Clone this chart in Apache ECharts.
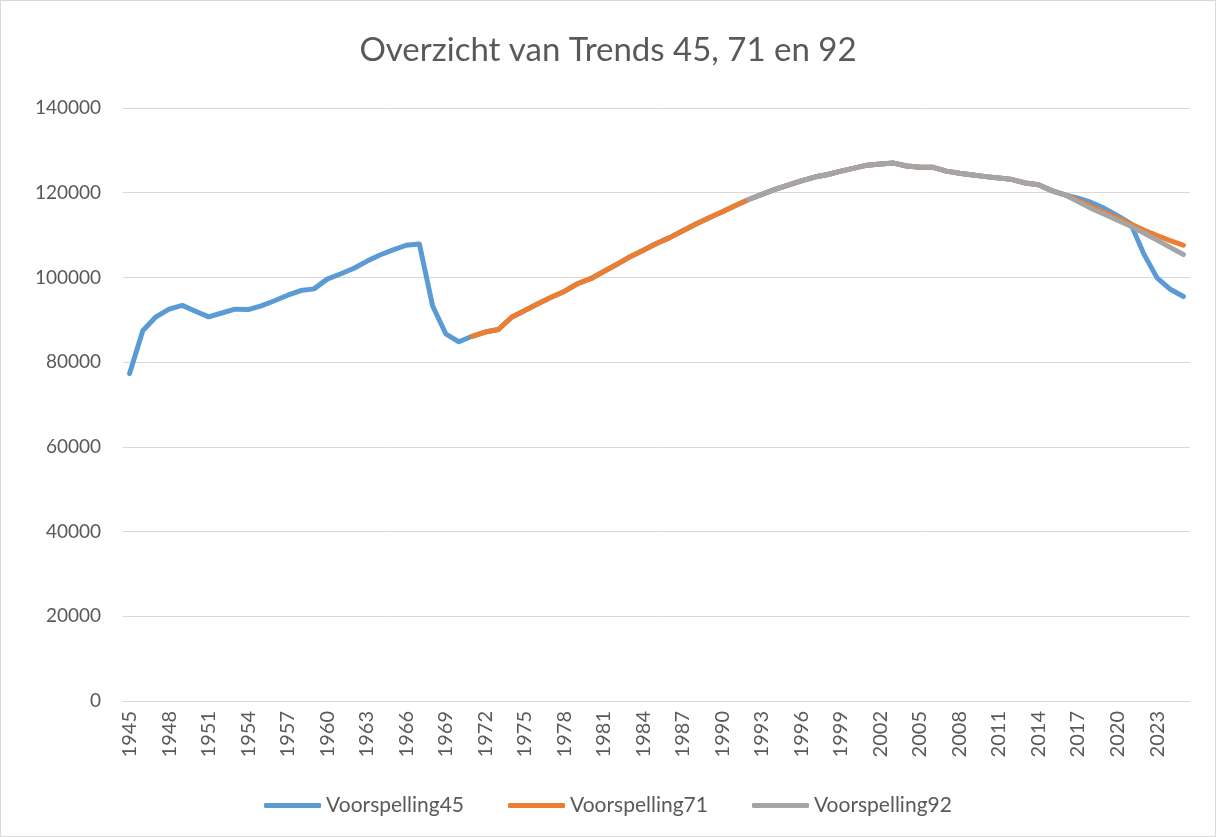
<!DOCTYPE html>
<html>
<head>
<meta charset="utf-8">
<script src="https://cdn.jsdelivr.net/npm/echarts@6/dist/echarts.min.js"></script>
<style>
    html, body { margin: 0; padding: 0; background: #fff; }
    #chart { width: 1214px; height: 835px; border: 1px solid #d9d9d9; }
</style>
</head>
<body>
<div id="chart"></div>
<script>
// jaren 1945 t/m 2025
var years = [];
for (var y = 1945; y <= 2025; y++) {
    years.push(String(y));
}

// Voorspelling45: 1945 - 2025
var voorspelling45 = [
    77300, 87400, 90700, 92500, 93400, 92000, 90700, 91600, 92500, 92400,   // 1945-1954
    93300, 94500, 95800, 96900, 97300, 99600, 100800, 102100, 103800, 105300, // 1955-1964
    106500, 107600, 107900, 93300, 86700, 84800, 86100, 87100, 87700, 90600,  // 1965-1974
    92200, 93800, 95300, 96700, 98500, 99700, 101400, 103100, 104900, 106400, // 1975-1984
    108000, 109400, 111000, 112600, 114100, 115500, 117000, 118400, 119600, 120800, // 1985-1994
    121800, 122800, 123700, 124300, 125100, 125800, 126500, 126800, 127000, 126300, // 1995-2004
    126000, 126000, 125100, 124600, 124200, 123800, 123500, 123100, 122300, 121900, // 2005-2014
    120500, 119500, 118700, 117700, 116300, 114600, 112700, 105500, 99900, 97200,   // 2015-2024
    95500                                                                          // 2025
];

// Voorspelling71: 1971 - 2025
var voorspelling71 = [
    86100, 87100, 87700, 90600,                                                    // 1971-1974
    92200, 93800, 95300, 96700, 98500, 99700, 101400, 103100, 104900, 106400, // 1975-1984
    108000, 109400, 111000, 112600, 114100, 115500, 117000, 118400, 119600, 120800, // 1985-1994
    121800, 122800, 123700, 124300, 125100, 125800, 126500, 126800, 127000, 126300, // 1995-2004
    126000, 126000, 125100, 124600, 124200, 123800, 123500, 123100, 122300, 121900, // 2005-2014
    120500, 119500, 118200, 116800, 115400, 114000, 112600, 111200, 109900, 108700, // 2015-2024
    107600                                                                         // 2025
];

// Voorspelling92: 1992 - 2025
var voorspelling92 = [
    118400, 119600, 120800,                                                        // 1992-1994
    121800, 122800, 123700, 124300, 125100, 125800, 126500, 126800, 127000, 126300, // 1995-2004
    126000, 126000, 125100, 124600, 124200, 123800, 123500, 123100, 122300, 121900, // 2005-2014
    120500, 119500, 117900, 116300, 114900, 113500, 112100, 110500, 108800, 107100, // 2015-2024
    105400                                                                         // 2025
];

function padFrom(startYear, values) {
    var out = [];
    for (var i = 0; i < years.length; i++) {
        var idx = Number(years[i]) - startYear;
        out.push(idx >= 0 && idx < values.length ? values[idx] : null);
    }
    return out;
}

var textColor = '#595959';
var font = 'Lato, "Open Sans", sans-serif';

var option = {
    animation: false,
    title: {
        text: 'Overzicht van Trends 45, 71 en 92',
        left: 'center',
        top: 28,
        textStyle: {
            color: textColor,
            fontFamily: font,
            fontWeight: 'normal',
            fontSize: 33
        }
    },
    legend: {
        bottom: 15,
        left: 'center',
        itemWidth: 57,
        itemHeight: 5,
        itemGap: 44,
        icon: 'roundRect',
        textStyle: {
            color: textColor,
            fontFamily: font,
            fontSize: 21
        },
        data: ['Voorspelling45', 'Voorspelling71', 'Voorspelling92']
    },
    grid: {
        left: 122,
        right: 25,
        top: 107,
        bottom: 135,
        containLabel: false
    },
    xAxis: {
        type: 'category',
        boundaryGap: true,
        data: years,
        axisLine: { lineStyle: { color: '#d9d9d9', width: 1 } },
        axisTick: { show: false },
        axisLabel: {
            interval: 2,
            rotate: 90,
            color: textColor,
            fontFamily: font,
            fontSize: 20,
            margin: 10
        }
    },
    yAxis: {
        type: 'value',
        min: 0,
        max: 140000,
        interval: 20000,
        axisLine: { show: false },
        axisTick: { show: false },
        axisLabel: {
            color: textColor,
            fontFamily: font,
            fontSize: 19,
            margin: 22,
            formatter: function (v) { return String(v); }
        },
        splitLine: { lineStyle: { color: '#d9d9d9', width: 1 } }
    },
    series: [
        {
            name: 'Voorspelling45',
            type: 'line',
            data: padFrom(1945, voorspelling45),
            showSymbol: false,
            lineStyle: { width: 5, cap: 'round', join: 'round' },
            z: 1
        },
        {
            name: 'Voorspelling71',
            type: 'line',
            data: padFrom(1971, voorspelling71),
            showSymbol: false,
            lineStyle: { width: 5, cap: 'round', join: 'round' },
            z: 2
        },
        {
            name: 'Voorspelling92',
            type: 'line',
            data: padFrom(1992, voorspelling92),
            showSymbol: false,
            lineStyle: { width: 5, cap: 'round', join: 'round' },
            z: 3
        }
    ],
    color: ['#5b9bd5', '#ed7d31', '#a5a5a5']
};

var chart = echarts.init(document.getElementById('chart'));
chart.setOption(option);
</script>
</body>
</html>
